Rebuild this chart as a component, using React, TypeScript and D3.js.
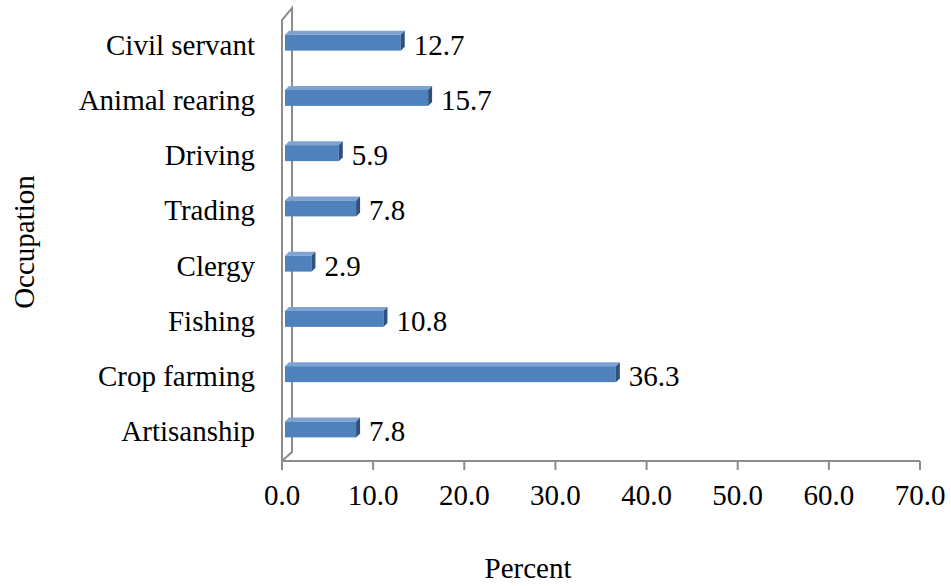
import React, { useEffect, useRef } from "react";
import * as d3 from "d3";

const categories = ["Civil servant", "Animal rearing", "Driving", "Trading", "Clergy", "Fishing", "Crop farming", "Artisanship"];
const values = [12.7, 15.7, 5.9, 7.8, 2.9, 10.8, 36.3, 7.8];
const ticks = [0, 10, 20, 30, 40, 50, 60, 70];

export default function App() {
  const svgRef = useRef<SVGSVGElement>(null);

  useEffect(() => {
    const svg = d3.select(svgRef.current);
    svg.selectAll("*").remove();
    const font = "'Liberation Serif', 'Times New Roman', serif";
    const fs = "29px";
    const dx = 10; // depth offsets of the 3d box
    const dy = 9;

    const x = d3.scaleLinear().domain([0, 70]).range([282, 920]);
    const y = d3.scaleBand().domain(categories).range([14, 456]);

    const g = svg.append("g");
    const grey = "#8c8c8c";

    // walls
    g.append("path")
      .attr("d", `M282,${461} L282,20 L${282 + dx},${20 - dy - 3} L${282 + dx},${461 - dy} L282,461`)
      .attr("fill", "none").attr("stroke", grey).attr("stroke-width", 2);
    g.append("line")
      .attr("x1", 282).attr("x2", 920).attr("y1", 461).attr("y2", 461)
      .attr("stroke", grey).attr("stroke-width", 2);

    g.selectAll("line.tick")
      .data(ticks)
      .join("line")
      .attr("class", "tick")
      .attr("x1", (d) => x(d)).attr("x2", (d) => x(d))
      .attr("y1", 461).attr("y2", 470)
      .attr("stroke", grey).attr("stroke-width", 2);

    g.selectAll("text.tl")
      .data(ticks)
      .join("text")
      .attr("class", "tl")
      .attr("x", (d) => x(d))
      .attr("y", 505)
      .attr("text-anchor", "middle")
      .style("font-family", font)
      .style("font-size", fs)
      .text((d) => d.toFixed(1));

    // bars
    const h = 16;
    const off = 4;
    const bars = g.selectAll("g.bar").data(values).join("g").attr("class", "bar");
    bars.each(function (v, i) {
      const sel = d3.select(this);
      const cy = (y(categories[i]) as number) + y.bandwidth() / 2;
      const x0 = 285;
      const x1 = x(v) + 3;
      const top = cy - h / 2 + 1;
      sel.append("rect")
        .attr("x", x0).attr("y", top).attr("width", x1 - x0).attr("height", h)
        .attr("fill", "#4F81BD");
      sel.append("path")
        .attr("d", `M${x0},${top} L${x0 + off},${top - off} L${x1 + off},${top - off} L${x1},${top} Z`)
        .attr("fill", "#7ea3d3");
      sel.append("path")
        .attr("d", `M${x1},${top} L${x1 + off},${top - off} L${x1 + off},${top + h - off} L${x1},${top + h} Z`)
        .attr("fill", "#2f5180");
      sel.append("text")
        .attr("x", x1 + off + 9)
        .attr("y", cy + 13)
        .style("font-family", font)
        .style("font-size", fs)
        .text(v.toFixed(1));
    });

    g.selectAll("text.cat")
      .data(categories)
      .join("text")
      .attr("class", "cat")
      .attr("x", 255)
      .attr("y", (d) => (y(d) as number) + y.bandwidth() / 2 + 13)
      .attr("text-anchor", "end")
      .style("font-family", font)
      .style("font-size", fs)
      .text((d) => d);

    g.append("text")
      .attr("transform", "translate(34,242) rotate(-90)")
      .attr("text-anchor", "middle")
      .style("font-family", font)
      .style("font-size", fs)
      .text("Occupation");

    g.append("text")
      .attr("x", 528)
      .attr("y", 578)
      .attr("text-anchor", "middle")
      .style("font-family", font)
      .style("font-size", fs)
      .text("Percent");
  }, []);

  return (
    <svg
      ref={svgRef}
      width={951}
      height={586}
      style={{ position: "absolute", left: 0, top: 0, background: "#fff" }}
    />
  );
}
